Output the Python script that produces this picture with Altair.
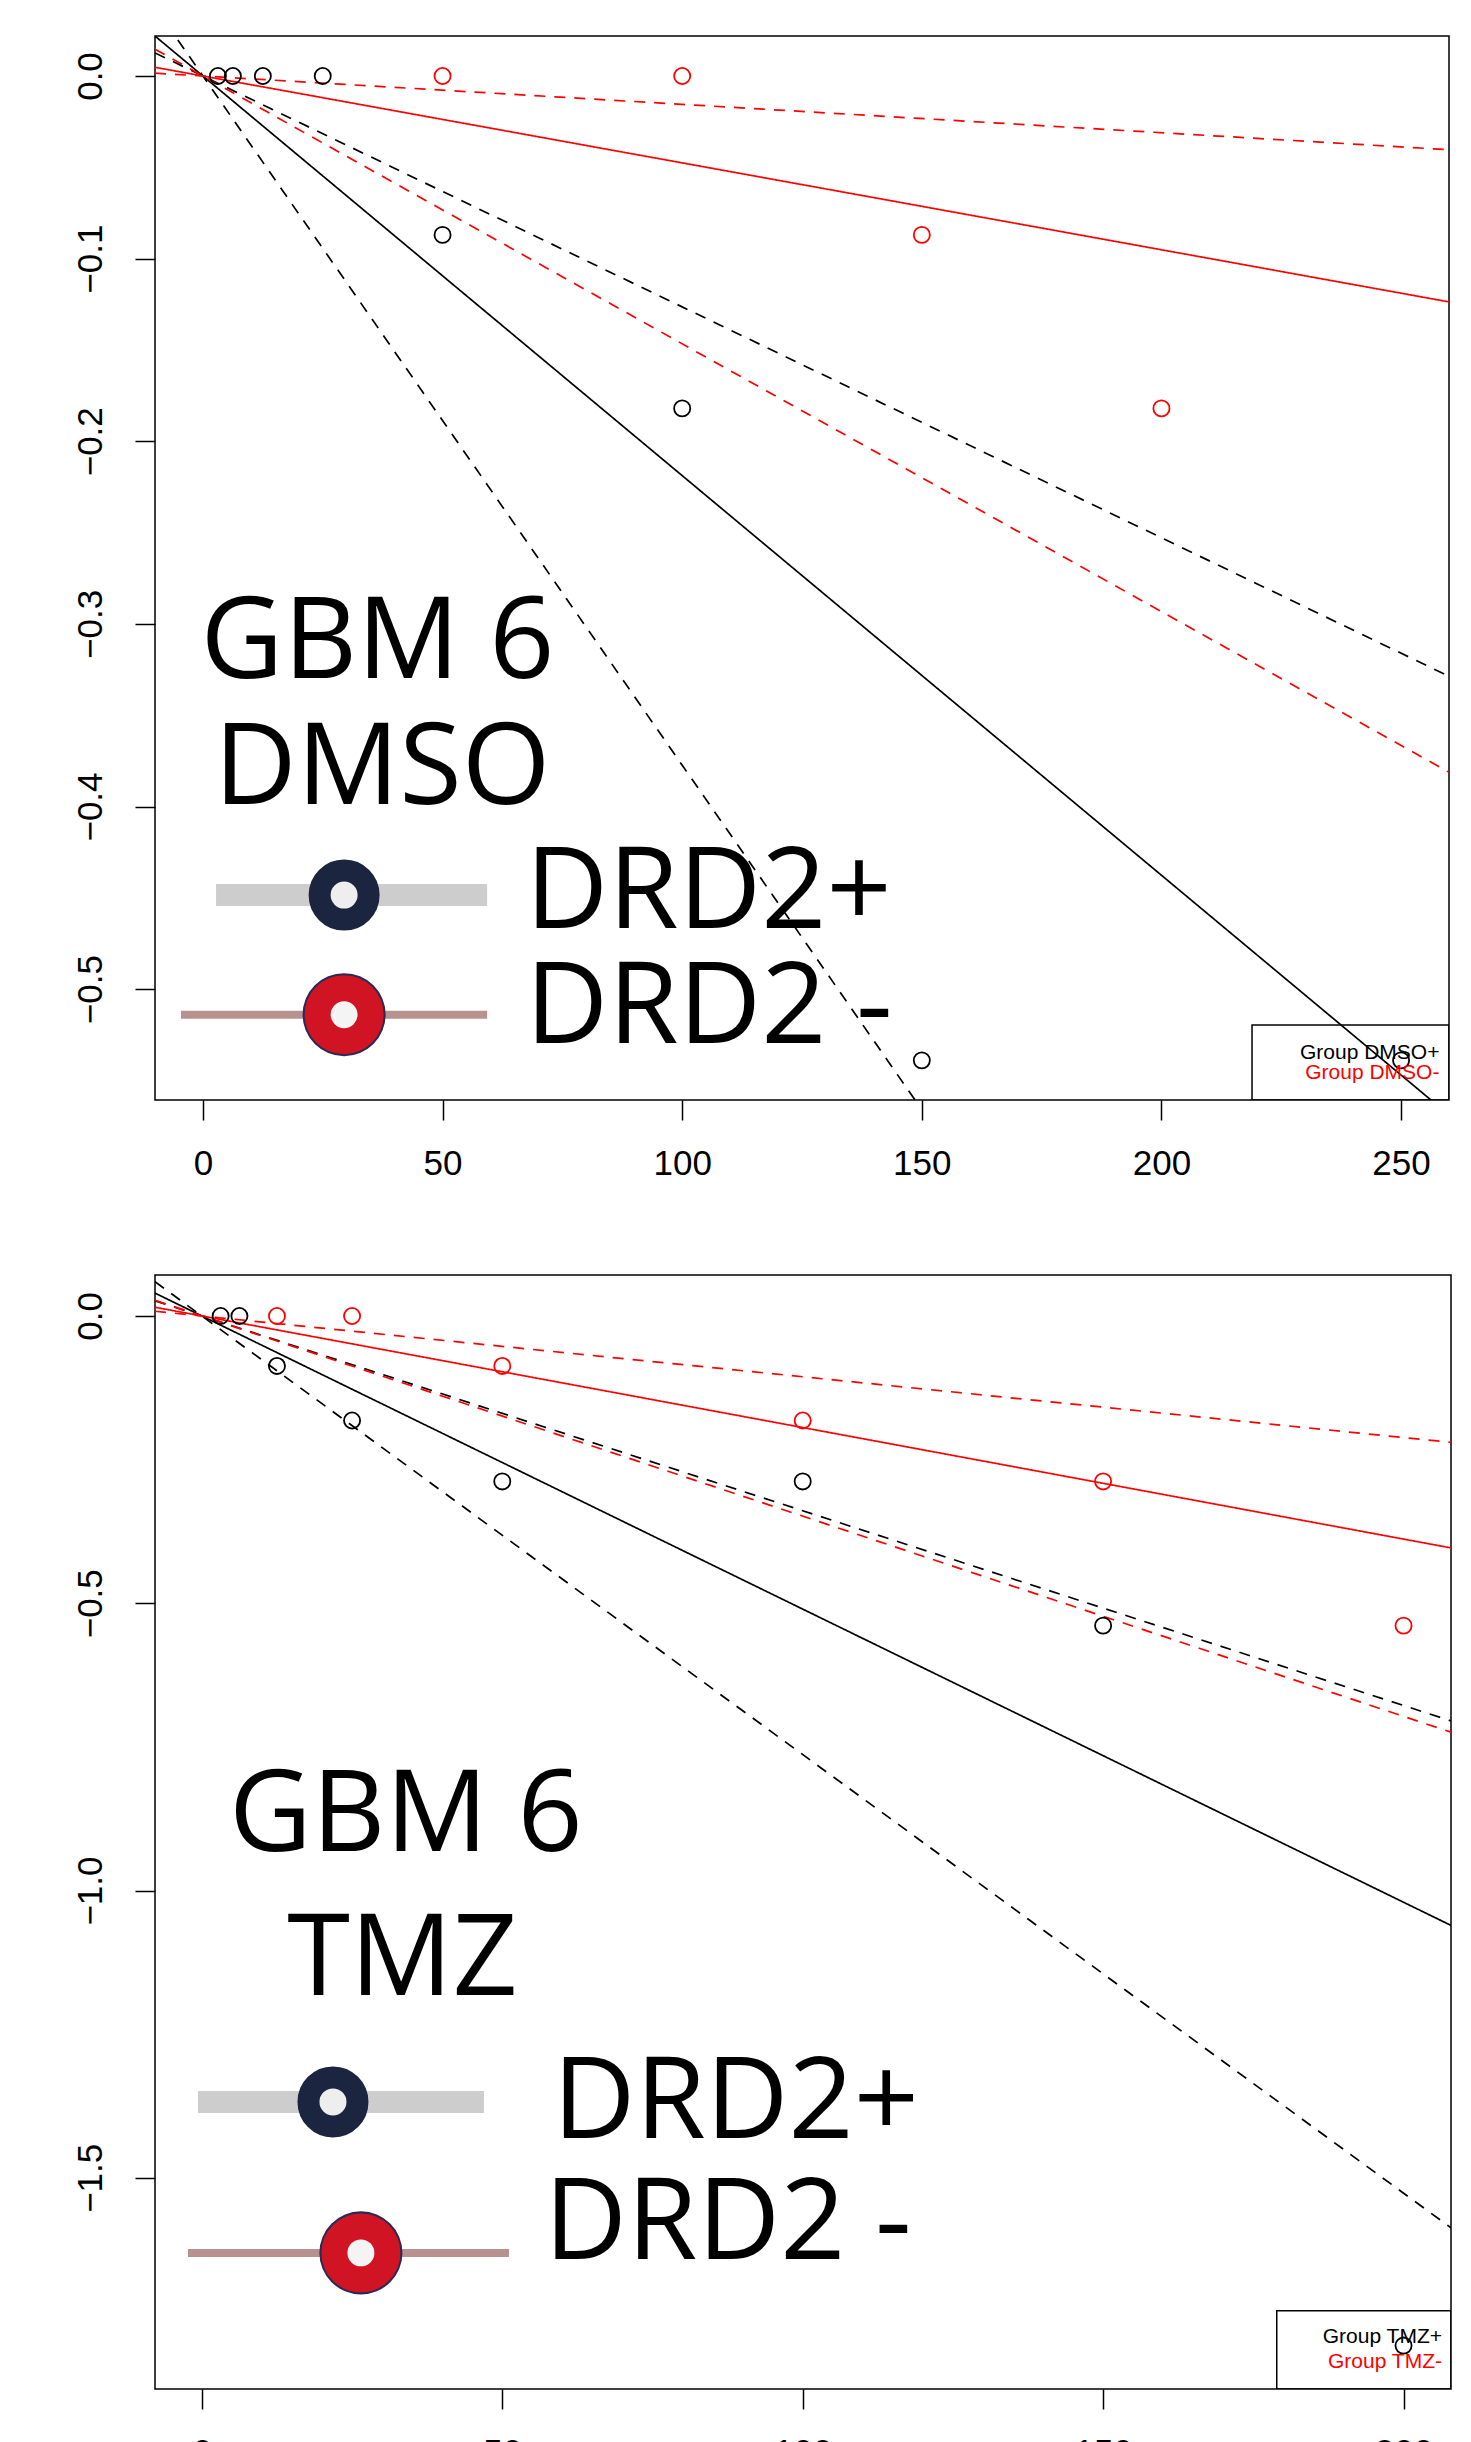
import altair as alt
import pandas as pd

# ---------------- data ----------------
# Panel 1 : GBM 6, DMSO  (dose vs log fraction non-responding)
dmso_plus_dose = [3.125, 6.25, 12.5, 25, 50, 100, 150, 250]
dmso_plus_logfrac = [0.0, 0.0, 0.0, 0.0, -0.087, -0.182, -0.539, -0.539]
dmso_minus_dose = [50, 100, 150, 200]
dmso_minus_logfrac = [0.0, 0.0, -0.087, -0.182]
# 1/frequency : estimate, lower, upper
dmso_plus_fit = [457, 265, 791]
dmso_minus_fit = [2102, 682, 6439]

# Panel 2 : GBM 6, TMZ
tmz_plus_dose = [3.125, 6.25, 12.5, 25, 50, 100, 150, 200]
tmz_plus_logfrac = [0.0, 0.0, -0.087, -0.182, -0.288, -0.288, -0.539, -1.792]
tmz_minus_dose = [12.5, 25, 50, 100, 150, 200]
tmz_minus_logfrac = [0.0, 0.0, -0.087, -0.182, -0.288, -0.539]
tmz_plus_fit = [196, 131, 295]
tmz_minus_fit = [515, 287, 945]

top_x_ticks = [0, 50, 100, 150, 200, 250]
top_y_ticks = [0.0, -0.1, -0.2, -0.3, -0.4, -0.5]
bot_x_ticks = [0, 50, 100, 150, 200]
bot_y_ticks = [0.0, -0.5, -1.0, -1.5]

top_x_domain = [-10.0, 260.0]
top_y_domain = [-0.5607, 0.0219]
bot_x_domain = [-7.8, 207.9]
bot_y_domain = [-1.8676, 0.0713]

# annotation texts (data coordinates of each panel)
top_big_text = ["GBM 6", "DMSO", "DRD2+", "DRD2 -"]
top_big_x = [-0.5, 2.3, 67.3, 67.3]
top_big_y = [-0.3297, -0.3987, -0.4666, -0.5296]
bot_big_text = ["GBM 6", "TMZ", "DRD2+", "DRD2 -"]
bot_big_x = [4.5, 14.2, 58.4, 57.0]
bot_big_y = [-0.931, -1.1817, -1.4306, -1.6411]

# icons: [bar x start, bar x end, y, circle x]
top_icon_plus = [2.74, 59.3, -0.4485, 29.46]
top_icon_minus = [-4.57, 59.3, -0.514, 29.46]
bot_icon_plus = [-0.65, 46.95, -1.3679, 21.82]
bot_icon_minus = [-2.31, 51.12, -1.6307, 26.47]

top_legend_text = ["Group DMSO+", "Group DMSO-"]
top_legend_box = [218.9, 260.0, -0.5197, -0.5607]
top_legend_tx = 258.0
top_legend_ty = [-0.535, -0.546]
bot_legend_text = ["Group TMZ+", "Group TMZ-"]
bot_legend_box = [178.9, 207.9, -1.7316, -1.8676]
bot_legend_tx = 206.4
bot_legend_ty = [-1.7769, -1.8204]

BLACK = "#000000"
RED = "#ff0000"
BIGFONT = "Open Sans"
AXFONT = "Liberation Sans"


def panel(px, py, nx, ny, pfit, nfit, xdom, ydom, xticks, yticks, W, H,
          big_text, big_x, big_y, icon_p, icon_m, leg_text, leg_box, leg_tx, leg_ty):
    xs = alt.Scale(domain=xdom, nice=False, zero=False)
    ys = alt.Scale(domain=ydom, nice=False, zero=False)
    xax = alt.Axis(values=xticks, format="d", labelPadding=26, labelBaseline="top",
                   minExtent=80, maxExtent=80, labelFlush=False, labelOverlap=False)
    yax = alt.Axis(values=yticks, format=".1f", labelAngle=270, labelAlign="center",
                   labelBaseline="alphabetic", labelPadding=34, minExtent=146, maxExtent=146,
                   labelFlush=False, labelOverlap=False)
    X = alt.X("x:Q", scale=xs, axis=xax, title=None)
    Y = alt.Y("y:Q", scale=ys, axis=yax, title=None)

    pts = pd.DataFrame({"x": px + nx, "y": py + ny,
                        "g": ["plus"] * len(px) + ["minus"] * len(nx)})
    points = alt.Chart(pts).mark_point(shape="circle", filled=False, size=260,
                                       strokeWidth=1.8, opacity=1, clip=True).encode(
        x=X, y=Y,
        color=alt.Color("g:N", scale=alt.Scale(domain=["plus", "minus"], range=[BLACK, RED]), legend=None))

    rows = []
    for fit, col in ((pfit, BLACK), (nfit, RED)):
        for i, f in enumerate(fit):
            rows.append({"x": xdom[0], "y": -xdom[0] / f, "x2": xdom[1], "y2": -xdom[1] / f,
                         "col": col, "dash": "solid" if i == 0 else "dashed"})
    ldf = pd.DataFrame(rows)
    lines = alt.Chart(ldf).mark_rule(strokeWidth=1.7, clip=True).encode(
        x=X, y=Y, x2="x2:Q", y2="y2:Q",
        color=alt.Color("col:N", scale=None),
        strokeDash=alt.StrokeDash("dash:N", scale=alt.Scale(domain=["solid", "dashed"],
                                                             range=[[1, 0], [11, 9]]), legend=None))

    # legend box (R style, bottom right)
    bdf = pd.DataFrame({"x": [leg_box[0]], "x2": [leg_box[1]], "y": [leg_box[2]], "y2": [leg_box[3]]})
    box = alt.Chart(bdf).mark_rect(filled=False, stroke="black", strokeWidth=1.5, clip=True).encode(
        x=X, y=Y, x2="x2:Q", y2="y2:Q")
    tdf = pd.DataFrame({"x": [leg_tx, leg_tx], "y": leg_ty, "t": leg_text, "c": [BLACK, RED]})
    legtxt = alt.Chart(tdf).mark_text(align="right", baseline="middle", font=AXFONT,
                                      fontSize=21).encode(
        x=X, y=Y, text="t:N", color=alt.Color("c:N", scale=None))

    # pasted annotation: big text
    big = pd.DataFrame({"x": big_x, "y": big_y, "t": big_text})
    bigtxt = alt.Chart(big).mark_text(align="left", baseline="alphabetic", font=BIGFONT,
                                      fontSize=114, color="black").encode(x=X, y=Y, text="t:N")

    # pasted annotation: icons
    bar_p = alt.Chart(pd.DataFrame({"x": [icon_p[0]], "x2": [icon_p[1]], "y": [icon_p[2]]})).mark_rule(
        color="#cdcdcd", strokeWidth=22, opacity=1).encode(x=X, x2="x2:Q", y=Y)
    bar_m = alt.Chart(pd.DataFrame({"x": [icon_m[0]], "x2": [icon_m[1]], "y": [icon_m[2]]})).mark_rule(
        color="#b8928e", strokeWidth=8, opacity=1).encode(x=X, x2="x2:Q", y=Y)
    ring_p = alt.Chart(pd.DataFrame({"x": [icon_p[3]], "y": [icon_p[2]]})).mark_point(
        shape="circle", filled=True, fill="#eeeeee", stroke="#1c2540", strokeWidth=22,
        size=2400, opacity=1, fillOpacity=1, strokeOpacity=1).encode(x=X, y=Y)
    rim_m = alt.Chart(pd.DataFrame({"x": [icon_m[3]], "y": [icon_m[2]]})).mark_point(
        shape="circle", filled=True, fill="#2a2a55", strokeWidth=0,
        size=6900, opacity=1, fillOpacity=1).encode(x=X, y=Y)
    ring_m = alt.Chart(pd.DataFrame({"x": [icon_m[3]], "y": [icon_m[2]]})).mark_point(
        shape="circle", filled=True, fill="#f4f4f4", stroke="#d01424", strokeWidth=26,
        size=2800, opacity=1, fillOpacity=1, strokeOpacity=1).encode(x=X, y=Y)

    return alt.layer(lines, points, box, legtxt, bigtxt, bar_p, bar_m, ring_p, rim_m, ring_m).properties(
        width=W, height=H)


top = panel(dmso_plus_dose, dmso_plus_logfrac, dmso_minus_dose, dmso_minus_logfrac,
            dmso_plus_fit, dmso_minus_fit, top_x_domain, top_y_domain, top_x_ticks, top_y_ticks,
            1294, 1064, top_big_text, top_big_x, top_big_y, top_icon_plus, top_icon_minus,
            top_legend_text, top_legend_box, top_legend_tx, top_legend_ty)
bottom = panel(tmz_plus_dose, tmz_plus_logfrac, tmz_minus_dose, tmz_minus_logfrac,
               tmz_plus_fit, tmz_minus_fit, bot_x_domain, bot_y_domain, bot_x_ticks, bot_y_ticks,
               1296, 1114, bot_big_text, bot_big_x, bot_big_y, bot_icon_plus, bot_icon_minus,
               bot_legend_text, bot_legend_box, bot_legend_tx, bot_legend_ty)

chart = alt.vconcat(top, bottom, spacing=92).properties(
    padding={"left": 0, "top": 27, "right": 0, "bottom": 0},
    background="white",
).configure_view(stroke="black", strokeWidth=1.5).configure_axis(
    grid=False, domain=False, tickColor="black", tickWidth=1.5, tickSize=20,
    labelFont=AXFONT, labelFontSize=35, labelColor="black",
)

chart.save("out.html", embed_options={"renderer": "svg", "actions": False})
